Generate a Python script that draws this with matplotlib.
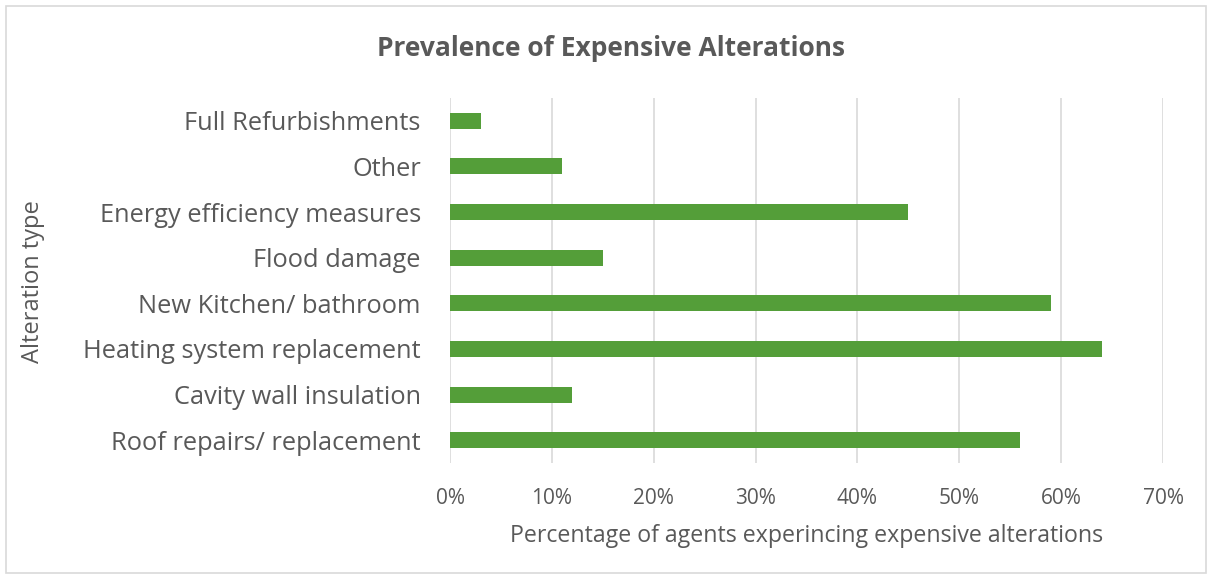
import matplotlib.pyplot as plt
from matplotlib.patches import Rectangle

plt.rcParams['font.family'] = ['Open Sans', 'DejaVu Sans']

# Data (bottom to top as drawn)
categories = ['Roof repairs/ replacement', 'Cavity wall insulation',
              'Heating system replacement', 'New Kitchen/ bathroom',
              'Flood damage', 'Energy efficiency measures', 'Other',
              'Full Refurbishments']
values = [56, 12, 64, 59, 15, 45, 11, 3]
ticks = [0, 10, 20, 30, 40, 50, 60, 70]

text_col = '#595959'
bar_col = '#549E39'
grid_col = '#D9D9D9'

fig = plt.figure(figsize=(12.12, 5.79), dpi=100)
ax = fig.add_axes([0.3713, 0.2003, 0.5883, 0.6304])

ax.barh(range(len(categories)), values, height=0.35, color=bar_col, zorder=3)
ax.set_ylim(-0.5, len(categories) - 0.5)
ax.set_xlim(0, 70)
ax.set_yticks(range(len(categories)))
ax.set_yticklabels(categories, fontsize=18.3, color=text_col)
ax.set_xticks(ticks)
ax.set_xticklabels([f'{t}%' for t in ticks], fontsize=15, color=text_col)
ax.tick_params(length=0)
ax.tick_params(axis='x', pad=18)
ax.tick_params(axis='y', pad=21)
ax.grid(axis='x', color=grid_col, linewidth=1.2, zorder=0)
for s in ax.spines.values():
    s.set_visible(False)

ax.set_xlabel('Percentage of agents experincing expensive alterations',
              fontsize=16.7, color=text_col, labelpad=11)
fig.text(0.027, 0.514, 'Alteration type', rotation=90, fontsize=17,
         color=text_col, ha='center', va='center')
fig.text(0.504, 0.917, 'Prevalence of Expensive Alterations', fontsize=19,
         fontweight='bold', color=text_col, ha='center', va='center')

fig.patches.append(Rectangle((0.005, 0.01), 0.99, 0.98, transform=fig.transFigure,
                             fill=False, edgecolor='#D9D9D9', linewidth=1.2))

fig.savefig('out.png', dpi=100)
